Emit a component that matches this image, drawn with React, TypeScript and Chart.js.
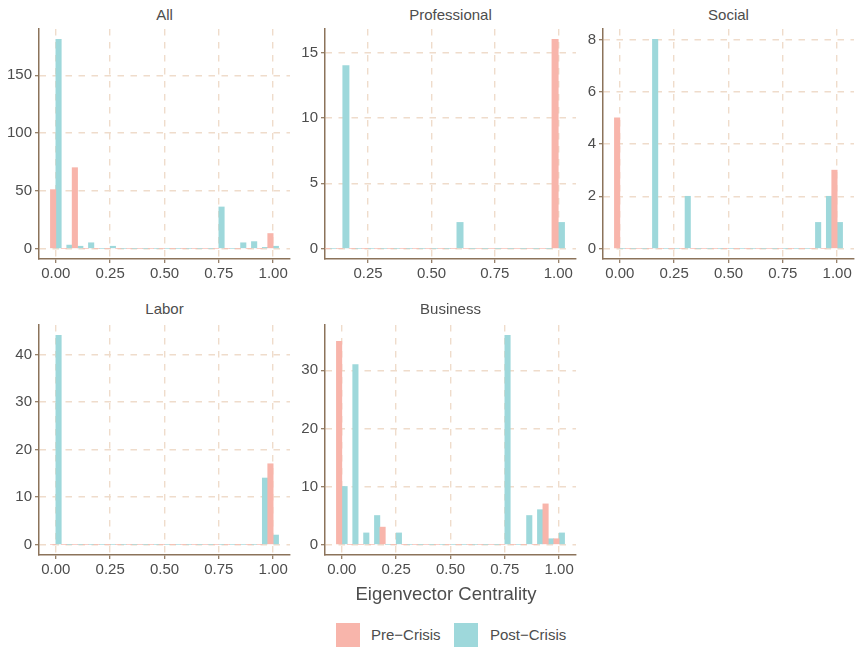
import React, { useEffect, useRef } from "react";
import { Chart, registerables } from "chart.js";

Chart.register(...registerables);

// ---------- data ----------
const binCenters = [0.0, 0.05, 0.1, 0.15, 0.2, 0.25, 0.3, 0.35, 0.4, 0.45, 0.5, 0.55, 0.6, 0.65, 0.7, 0.75, 0.8, 0.85, 0.9, 0.95, 1.0];
const seriesNames = ["Pre\u2212Crisis", "Post\u2212Crisis"];
const panelTitles = ["All", "Professional", "Social", "Labor", "Business"];

const allPre = [51, 0, 70, 0, 0, 0, 0, 0, 0, 0, 0, 0, 0, 0, 0, 0, 0, 0, 0, 0, 13];
const allPost = [181, 3, 2, 5, 0, 2, 0, 0, 0, 0, 0, 0, 0, 0, 0, 36, 0, 5, 6, 1, 2];

const professionalPre = [0, 0, 0, 0, 0, 0, 0, 0, 0, 0, 0, 0, 0, 0, 0, 0, 0, 0, 0, 0, 16];
const professionalPost = [0, 0, 0, 14, 0, 0, 0, 0, 0, 0, 0, 0, 2, 0, 0, 0, 0, 0, 0, 0, 2];

const socialPre = [5, 0, 0, 0, 0, 0, 0, 0, 0, 0, 0, 0, 0, 0, 0, 0, 0, 0, 0, 0, 3];
const socialPost = [0, 0, 0, 8, 0, 0, 2, 0, 0, 0, 0, 0, 0, 0, 0, 0, 0, 0, 1, 2, 1];

const laborPre = [0, 0, 0, 0, 0, 0, 0, 0, 0, 0, 0, 0, 0, 0, 0, 0, 0, 0, 0, 0, 17];
const laborPost = [44, 0, 0, 0, 0, 0, 0, 0, 0, 0, 0, 0, 0, 0, 0, 0, 0, 0, 0, 14, 2];

const businessPre = [35, 0, 0, 0, 3, 0, 0, 0, 0, 0, 0, 0, 0, 0, 0, 0, 0, 0, 0, 7, 1];
const businessPost = [10, 31, 2, 5, 0, 2, 0, 0, 0, 0, 0, 0, 0, 0, 0, 36, 0, 5, 6, 1, 2];

const xTicksFull = [0, 0.25, 0.5, 0.75, 1.0];
const xTicksProfessional = [0.25, 0.5, 0.75, 1.0];

const yTicksAll = [0, 50, 100, 150];
const yTicksProfessional = [0, 5, 10, 15];
const yTicksSocial = [0, 2, 4, 6, 8];
const yTicksLabor = [0, 10, 20, 30, 40];
const yTicksBusiness = [0, 10, 20, 30];

// ---------- style ----------
const FONT = "'Liberation Sans', Arial, Helvetica, sans-serif";
const PRE_COLOR = "#F8B5AB";
const POST_COLOR = "#9ED8DB";
const GRID_COLOR = "#EFDCCB";
const AXIS_COLOR = "#8B735A";
const TEXT_COLOR = "#4D4D4D";

const PANEL_W = 251;
const PANEL_H = 230;
const PAD_L = 38;
const PAD_T = 12;
const PAD_R = 22;
const PAD_B = 34;

const BIN_HALF = 0.025;

type PanelProps = {
  title: string;
  pre: number[];
  post: number[];
  xTicks: number[];
  yTicks: number[];
  left: number;
  top: number;
  titleY: number;
};

function Panel({ title, pre, post, xTicks, yTicks, left, top, titleY }: PanelProps) {
  const ref = useRef<HTMLCanvasElement | null>(null);

  useEffect(() => {
    const canvas = ref.current;
    if (!canvas) return;

    // x range: occupied bins, expanded by 5% (ggplot default)
    const used = binCenters.filter((_, i) => pre[i] > 0 || post[i] > 0);
    const lo = Math.min(...used) - BIN_HALF;
    const hi = Math.max(...used) + BIN_HALF;
    const xMin = lo - (hi - lo) * 0.05;
    const xMax = hi + (hi - lo) * 0.05;
    const yTop = Math.max(...pre, ...post);
    const yMin = -yTop * 0.05;
    const yMax = yTop * 1.05;

    const chart = new Chart(canvas, {
      type: "bar",
      data: {
        datasets: [
          {
            label: seriesNames[0],
            data: binCenters.map((x, i) => ({ x, y: pre[i] })),
            backgroundColor: PRE_COLOR,
            borderWidth: 0,
            categoryPercentage: 1,
            barPercentage: 1,
          },
          {
            label: seriesNames[1],
            data: binCenters.map((x, i) => ({ x, y: post[i] })),
            backgroundColor: POST_COLOR,
            borderWidth: 0,
            categoryPercentage: 1,
            barPercentage: 1,
          },
        ],
      },
      options: {
        responsive: false,
        maintainAspectRatio: false,
        animation: false,
        layout: { padding: { left: 0, top: PAD_T, right: PAD_R, bottom: 0 } },
        plugins: {
          legend: { display: false },
          tooltip: { enabled: false },
          title: { display: false },
        },
        scales: {
          x: {
            type: "linear",
            min: xMin,
            max: xMax,
            offset: false,
            afterBuildTicks: (s: any) => {
              s.ticks = xTicks.map((v) => ({ value: v }));
            },
            afterFit: (s: any) => {
              s.height = PAD_B;
              s.paddingLeft = 0;
              s.paddingRight = 0;
            },
            ticks: {
              autoSkip: false,
              maxRotation: 0,
              padding: 2,
              color: TEXT_COLOR,
              font: { family: FONT, size: 15 },
              callback: (v: any) => Number(v).toFixed(2),
            },
            grid: {
              color: GRID_COLOR,
              lineWidth: 1.4,
              offset: false,
              drawTicks: true,
              tickLength: 4,
              tickColor: AXIS_COLOR,
              tickWidth: 1.2,
            },
            border: { display: true, color: AXIS_COLOR, width: 1.5, dash: [6.5, 6.5] },
          },
          y: {
            type: "linear",
            min: yMin,
            max: yMax,
            afterBuildTicks: (s: any) => {
              s.ticks = yTicks.map((v) => ({ value: v }));
            },
            afterFit: (s: any) => {
              s.width = PAD_L;
              s.paddingTop = 0;
              s.paddingBottom = 0;
            },
            ticks: {
              autoSkip: false,
              padding: 3,
              color: TEXT_COLOR,
              font: { family: FONT, size: 15 },
              callback: (v: any) => String(Math.round(Number(v))),
            },
            grid: {
              color: GRID_COLOR,
              lineWidth: 1.4,
              drawTicks: true,
              tickLength: 4,
              tickColor: AXIS_COLOR,
              tickWidth: 1.2,
            },
            border: { display: true, color: AXIS_COLOR, width: 1.5, dash: [6.5, 6.5] },
          },
        },
      } as any,
    });
    return () => chart.destroy();
  }, []);

  const W = PAD_L + PANEL_W + PAD_R;
  const H = PAD_T + PANEL_H + PAD_B;

  return (
    <>
      <div
        style={{
          position: "absolute",
          left: left,
          width: PANEL_W,
          top: titleY - 10,
          height: 20,
          lineHeight: "20px",
          textAlign: "center",
          fontFamily: FONT,
          fontSize: 15,
          color: TEXT_COLOR,
          whiteSpace: "nowrap",
        }}
      >
        {title}
      </div>
      <canvas
        ref={ref}
        width={W}
        height={H}
        style={{ position: "absolute", left: left - PAD_L, top: top - PAD_T, width: W, height: H }}
      />
    </>
  );
}

export default function App() {
  const colX = [39, 325, 603];
  const rowY = [29, 325];
  const titleY = [15, 308.5];

  return (
    <div
      style={{
        position: "absolute",
        left: 0,
        top: 0,
        width: 856,
        height: 647,
        background: "#ffffff",
        overflow: "hidden",
        fontFamily: FONT,
      }}
    >
      <Panel title={panelTitles[0]} pre={allPre} post={allPost} xTicks={xTicksFull} yTicks={yTicksAll} left={colX[0]} top={rowY[0]} titleY={titleY[0]} />
      <Panel title={panelTitles[1]} pre={professionalPre} post={professionalPost} xTicks={xTicksProfessional} yTicks={yTicksProfessional} left={colX[1]} top={rowY[0]} titleY={titleY[0]} />
      <Panel title={panelTitles[2]} pre={socialPre} post={socialPost} xTicks={xTicksFull} yTicks={yTicksSocial} left={colX[2]} top={rowY[0]} titleY={titleY[0]} />
      <Panel title={panelTitles[3]} pre={laborPre} post={laborPost} xTicks={xTicksFull} yTicks={yTicksLabor} left={colX[0]} top={rowY[1]} titleY={titleY[1]} />
      <Panel title={panelTitles[4]} pre={businessPre} post={businessPost} xTicks={xTicksFull} yTicks={yTicksBusiness} left={colX[1]} top={rowY[1]} titleY={titleY[1]} />

      <div
        style={{
          position: "absolute",
          left: 246,
          width: 400,
          top: 594 - 12,
          height: 24,
          lineHeight: "24px",
          textAlign: "center",
          fontSize: 18.5,
          color: TEXT_COLOR,
          whiteSpace: "nowrap",
        }}
      >
        Eigenvector Centrality
      </div>

      <div style={{ position: "absolute", left: 336, top: 623, width: 24, height: 24, background: PRE_COLOR }} />
      <div
        style={{
          position: "absolute",
          left: 371,
          top: 635 - 10,
          height: 20,
          lineHeight: "20px",
          fontSize: 15,
          color: TEXT_COLOR,
          whiteSpace: "nowrap",
        }}
      >
        {seriesNames[0]}
      </div>
      <div style={{ position: "absolute", left: 454, top: 623, width: 24, height: 24, background: POST_COLOR }} />
      <div
        style={{
          position: "absolute",
          left: 490,
          top: 635 - 10,
          height: 20,
          lineHeight: "20px",
          fontSize: 15,
          color: TEXT_COLOR,
          whiteSpace: "nowrap",
        }}
      >
        {seriesNames[1]}
      </div>
    </div>
  );
}
